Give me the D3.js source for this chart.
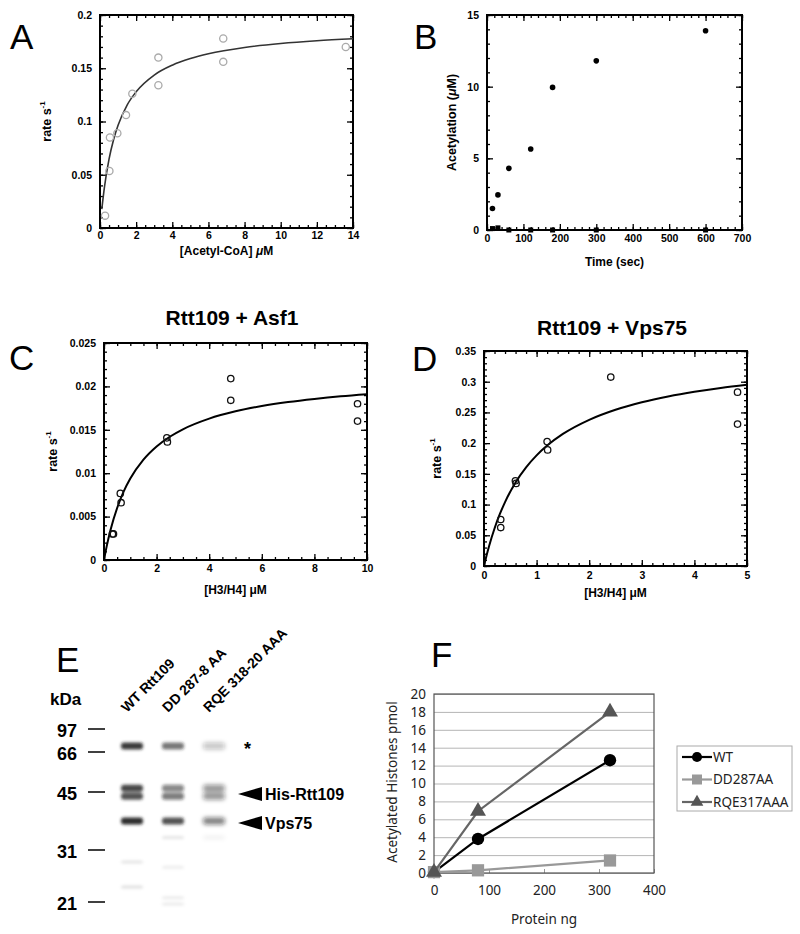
<!DOCTYPE html>
<html><head><meta charset="utf-8">
<script src="https://cdn.jsdelivr.net/npm/d3@7"></script>
<style>body{margin:0;background:#fff}svg{display:block}</style>
</head><body>
<svg id="fig" width="800" height="934"></svg>
<script>
// ---------- Panel A : rate vs [Acetyl-CoA] ----------
const aConc = [0.28, 0.52, 0.55, 0.96, 1.44, 1.79, 3.23, 3.23, 6.82, 6.82, 13.6];
const aRate = [0.0116, 0.0535, 0.085, 0.089, 0.106, 0.126, 0.160, 0.134, 0.178, 0.156, 0.170];
const aFitX = [0.1, 0.25, 0.5, 0.75, 1, 1.5, 2, 3, 4, 5, 6, 8, 10, 12, 14];
const aFitY = [0.0178, 0.0389, 0.0646, 0.0828, 0.0964, 0.1154, 0.1279, 0.1436, 0.1529, 0.1591, 0.1636, 0.1695, 0.1732, 0.1758, 0.1777];

// ---------- Panel B : acetylation time course ----------
const bTime = [15, 30, 60, 120, 180, 300, 600];
const bActive = [1.5, 2.45, 4.3, 5.65, 9.95, 11.8, 13.9];
const bControl = [0.1, 0.15, 0, 0, 0, 0, 0];

// ---------- Panel C : Rtt109 + Asf1 ----------
const cConc = [0.32, 0.36, 0.62, 0.65, 2.39, 2.41, 4.82, 4.82, 9.64, 9.64];
const cRate = [0.0030, 0.0030, 0.00767, 0.0066, 0.01407, 0.0136, 0.0209, 0.0184, 0.0180, 0.0160];
const cFitX = [0, 0.1, 0.25, 0.5, 0.75, 1, 1.5, 2, 2.5, 3, 4, 5, 6, 7, 8, 9, 10];
const cFitY = [0, 0.00154, 0.00348, 0.00599, 0.0079, 0.00938, 0.01156, 0.01308, 0.0142, 0.01506, 0.01629, 0.01713, 0.01774, 0.0182, 0.01856, 0.01886, 0.0191];

// ---------- Panel D : Rtt109 + Vps75 ----------
const dConc = [0.318, 0.318, 0.597, 0.61, 1.20, 1.21, 2.41, 4.82, 4.82];
const dRate = [0.0757, 0.0626, 0.1388, 0.1345, 0.2025, 0.189, 0.3076, 0.283, 0.231];
const dFitX = [0, 0.05, 0.1, 0.2, 0.3, 0.4, 0.6, 0.8, 1, 1.2, 1.5, 2, 2.5, 3, 3.5, 4, 4.5, 5];
const dFitY = [0, 0.0176, 0.0335, 0.0611, 0.0843, 0.1041, 0.136, 0.1606, 0.1801, 0.196, 0.215, 0.238, 0.2544, 0.2666, 0.2761, 0.2837, 0.2899, 0.295];

// ---------- Panel E : gel ----------
const gelLanes = ["WT Rtt109", "DD 287-8 AA", "RQE 318-20 AAA"];
const markerKDa = [97, 66, 45, 31, 21];
const bandKDa = [74, 47, 44, 38, 34, 28.7, 27.7, 23.9, 21.8, 20.6];
const bandWT  = [0.85, 0.8, 0.75, 0.9, 0, 0.1, 0, 0.12, 0, 0];
const bandDD  = [0.6, 0.5, 0.55, 0.75, 0.1, 0, 0.07, 0, 0.08, 0.08];
const bandRQE = [0.25, 0.45, 0.45, 0.55, 0.07, 0, 0, 0, 0, 0];
const bandLabels = ["*", "His-Rtt109", "Vps75"];

// ---------- Panel F : activity ----------
const fProtein = [0, 80, 320];
const fWT = [0.1, 3.8, 12.6];
const fDD = [0.1, 0.3, 1.4];
const fRQE = [0.1, 6.9, 18.0];
const fSeries = ["WT", "DD287AA", "RQE317AAA"];
const fYTicks = [0, 2, 4, 6, 8, 10, 12, 14, 16, 18, 20];
const fXTicks = [0, 100, 200, 300, 400];

const svg = d3.select('#fig');
const KF = '"Liberation Sans", Arial, Helvetica, sans-serif';
const NF = '"Noto Sans", "DejaVu Sans", sans-serif';
const fmtNum = d => String(+d.toFixed(4));

function letter(t, x, y) {
  svg.append('text').attr('x', x).attr('y', y).text(t)
    .attr('font-family', KF).attr('font-size', 35).attr('fill', '#000');
}

function kinetic(o) {
  const g = svg.append('g');
  const x = d3.scaleLinear().domain(o.xDomain).range([o.left, o.right]);
  const y = d3.scaleLinear().domain(o.yDomain).range([o.bottom, o.top]);
  const rng = (dom, s) => d3.range(dom[0], dom[1] + s / 2, s);
  const xMaj = rng(o.xDomain, o.xMajor), xMin = rng(o.xDomain, o.xMinor);
  const yMaj = rng(o.yDomain, o.yMajor), yMin = rng(o.yDomain, o.yMinor);
  const sides = [
    [d3.axisBottom, x, `translate(0,${o.bottom})`, xMaj, xMin],
    [d3.axisTop, x, `translate(0,${o.top})`, xMaj, xMin],
    [d3.axisLeft, y, `translate(${o.left},0)`, yMaj, yMin],
    [d3.axisRight, y, `translate(${o.right},0)`, yMaj, yMin]
  ];
  sides.forEach(([ax, sc, tr, maj, mn]) => {
    g.append('g').attr('transform', tr).call(ax(sc).tickValues(mn).tickSize(-3).tickFormat(''))
      .call(s => s.select('.domain').remove());
    g.append('g').attr('transform', tr).call(ax(sc).tickValues(maj).tickSize(-6).tickFormat(''))
      .call(s => s.select('.domain').remove());
  });
  g.selectAll('.tick line').attr('stroke', '#000').attr('stroke-width', 1.3);
  g.append('rect').attr('x', o.left).attr('y', o.top)
    .attr('width', o.right - o.left).attr('height', o.bottom - o.top)
    .attr('fill', 'none').attr('stroke', '#000').attr('stroke-width', 2);
  const xl = g.append('g').attr('transform', `translate(0,${o.bottom})`)
    .call(d3.axisBottom(x).tickValues(xMaj).tickSize(0).tickPadding(o.xPad || 4).tickFormat(fmtNum));
  const yl = g.append('g').attr('transform', `translate(${o.left},0)`)
    .call(d3.axisLeft(y).tickValues(yMaj).tickSize(0).tickPadding(8).tickFormat(fmtNum));
  [xl, yl].forEach(a => {
    a.select('.domain').remove();
    a.selectAll('text').attr('font-family', KF).attr('font-weight', 'bold')
      .attr('font-size', 10.5).attr('fill', '#000');
  });
  const xt = g.append('text').attr('x', (o.left + o.right) / 2).attr('y', o.xTitleY)
    .attr('text-anchor', 'middle').attr('font-family', KF).attr('font-weight', 'bold')
    .attr('font-size', 12);
  o.xTitle.forEach(p => xt.append('tspan').text(p[0]).attr('font-style', p[1] ? 'italic' : null));
  const yt = g.append('text')
    .attr('transform', `translate(${o.yTitleX},${(o.top + o.bottom) / 2}) rotate(-90)`)
    .attr('text-anchor', 'middle').attr('font-family', KF).attr('font-weight', 'bold')
    .attr('font-size', 12.5);
  o.yTitle.forEach(p => {
    const ts = yt.append('tspan').text(p[0]);
    if (p[1] === 'sup') ts.attr('font-size', 8).attr('dy', -6);
    if (p[1] === 'it') ts.attr('font-style', 'italic');
  });
  return { g, x, y };
}

// ---- Panel A
letter('A', 10, 49);
{
  const { g, x, y } = kinetic({
    left: 100, right: 353, top: 15, bottom: 228,
    xDomain: [0, 14], yDomain: [0, 0.2], xMajor: 2, xMinor: 0.5, yMajor: 0.05, yMinor: 0.01,
    xTitle: [['[Acetyl-CoA] '], ['μ', true], ['M']], xTitleY: 255, xPad: 4,
    yTitle: [['rate s'], ['-1', 'sup']], yTitleX: 51
  });
  g.append('path').datum(aFitX.map((v, i) => [v, aFitY[i]]))
    .attr('d', d3.line().x(d => x(d[0])).y(d => y(d[1])).curve(d3.curveMonotoneX))
    .attr('fill', 'none').attr('stroke', '#333').attr('stroke-width', 1.6);
  g.selectAll('circle.pt').data(aConc).join('circle')
    .attr('cx', d => x(d)).attr('cy', (d, i) => y(aRate[i])).attr('r', 3.6)
    .attr('fill', 'none').attr('stroke', '#aaa').attr('stroke-width', 1.3);
}

// ---- Panel B
letter('B', 414, 49);
{
  const { g, x, y } = kinetic({
    left: 487, right: 742, top: 15, bottom: 230,
    xDomain: [0, 700], yDomain: [0, 15], xMajor: 100, xMinor: 20, yMajor: 5, yMinor: 1,
    xTitle: [['Time (sec)']], xTitleY: 266, xPad: 5,
    yTitle: [['Acetylation ('], ['μ', 'it'], ['M)']], yTitleX: 456
  });
  g.selectAll('rect.ctl').data(bTime).join('rect')
    .attr('x', d => x(d) - 2.5).attr('y', (d, i) => y(bControl[i]) - 2.5)
    .attr('width', 5).attr('height', 5).attr('fill', '#000');
  g.selectAll('circle.pt').data(bTime).join('circle')
    .attr('cx', d => x(d)).attr('cy', (d, i) => y(bActive[i])).attr('r', 2.8).attr('fill', '#000');
}

// ---- Panel C
letter('C', 9, 370);
svg.append('text').attr('x', 232).attr('y', 325).attr('text-anchor', 'middle')
  .attr('font-family', KF).attr('font-weight', 'bold').attr('font-size', 21).text('Rtt109 + Asf1');
{
  const { g, x, y } = kinetic({
    left: 104, right: 367, top: 343, bottom: 560,
    xDomain: [0, 10], yDomain: [0, 0.025], xMajor: 2, xMinor: 0.5, yMajor: 0.005, yMinor: 0.001,
    xTitle: [['[H3/H4] μM']], xTitleY: 594, xPad: 5,
    yTitle: [['rate s'], ['-1', 'sup']], yTitleX: 57
  });
  g.append('path').datum(cFitX.map((v, i) => [v, cFitY[i]]))
    .attr('d', d3.line().x(d => x(d[0])).y(d => y(d[1])).curve(d3.curveMonotoneX))
    .attr('fill', 'none').attr('stroke', '#000').attr('stroke-width', 2);
  g.selectAll('circle.pt').data(cConc).join('circle')
    .attr('cx', d => x(d)).attr('cy', (d, i) => y(cRate[i])).attr('r', 3.2)
    .attr('fill', 'none').attr('stroke', '#111').attr('stroke-width', 1.3);
}

// ---- Panel D
letter('D', 412, 371);
svg.append('text').attr('x', 612).attr('y', 335).attr('text-anchor', 'middle')
  .attr('font-family', KF).attr('font-weight', 'bold').attr('font-size', 21).text('Rtt109 + Vps75');
{
  const { g, x, y } = kinetic({
    left: 484, right: 747, top: 351, bottom: 566,
    xDomain: [0, 5], yDomain: [0, 0.35], xMajor: 1, xMinor: 0.2, yMajor: 0.05, yMinor: 0.01,
    xTitle: [['[H3/H4] μM']], xTitleY: 597, xPad: 6,
    yTitle: [['rate s'], ['-1', 'sup']], yTitleX: 441
  });
  g.append('path').datum(dFitX.map((v, i) => [v, dFitY[i]]))
    .attr('d', d3.line().x(d => x(d[0])).y(d => y(d[1])).curve(d3.curveMonotoneX))
    .attr('fill', 'none').attr('stroke', '#000').attr('stroke-width', 2);
  g.selectAll('circle.pt').data(dConc).join('circle')
    .attr('cx', d => x(d)).attr('cy', (d, i) => y(dRate[i])).attr('r', 3.2)
    .attr('fill', 'none').attr('stroke', '#111').attr('stroke-width', 1.3);
}

// ---- Panel E : gel
letter('E', 56, 672);
{
  const defs = svg.append('defs');
  defs.append('filter').attr('id', 'blur1').attr('x', '-40%').attr('y', '-150%').attr('width', '180%').attr('height', '400%')
    .append('feGaussianBlur').attr('stdDeviation', '1.8 1.4');
  defs.append('filter').attr('id', 'blur2').attr('x', '-40%').attr('y', '-150%').attr('width', '180%').attr('height', '400%')
    .append('feGaussianBlur').attr('stdDeviation', '2.2 2.2');
  const g = svg.append('g');
  const lane = d3.scalePoint().domain(gelLanes).range([132, 214]);
  const mw = d3.scaleLinear().domain(markerKDa).range([729, 752, 792, 850, 902]);
  g.append('text').attr('x', 50).attr('y', 705).text('kDa')
    .attr('font-family', KF).attr('font-weight', 'bold').attr('font-size', 17);
  g.selectAll('line.mk').data(markerKDa).join('line')
    .attr('x1', 88).attr('x2', 105).attr('y1', d => mw(d)).attr('y2', d => mw(d))
    .attr('stroke', '#000').attr('stroke-width', 1.5);
  g.selectAll('text.mk').data(markerKDa).join('text')
    .attr('x', 77).attr('y', d => mw(d) + 2).attr('dy', '0.35em').attr('text-anchor', 'end')
    .attr('font-family', KF).attr('font-weight', 'bold').attr('font-size', 18).text(d => d);
  g.selectAll('text.lane').data(gelLanes).join('text')
    .attr('transform', d => `translate(${lane(d) - 5},713) rotate(-45)`)
    .attr('font-family', KF).attr('font-weight', 'bold').attr('font-size', 14).text(d => d);
  const laneBands = [bandWT, bandDD, bandRQE];
  laneBands.forEach((arr, li) => {
    g.append('g').attr('filter', li === 2 ? 'url(#blur2)' : 'url(#blur1)')
      .selectAll('rect').data(bandKDa.map((k, i) => [k, arr[i]]).filter(d => d[1] > 0)).join('rect')
      .attr('x', lane(gelLanes[li]) - 11).attr('width', 22)
      .attr('y', d => mw(d[0]) - (d[1] > 0.2 ? 3.5 : 1.5))
      .attr('height', d => d[1] > 0.2 ? 7 : 3).attr('rx', 3)
      .attr('fill', '#1a1a1a').attr('fill-opacity', d => d[1]);
  });
  const annY = [mw(bandKDa[0]), mw(45), mw(bandKDa[3])];
  g.append('text').attr('x', 244).attr('y', annY[0] + 9).text(bandLabels[0])
    .attr('font-family', KF).attr('font-weight', 'bold').attr('font-size', 18);
  [1, 2].forEach(i => {
    const yy = annY[i] + 2;
    g.append('path').attr('d', `M238,${yy} L262,${yy - 7} L262,${yy + 7} Z`).attr('fill', '#000');
    g.append('text').attr('x', 265).attr('y', yy).attr('dy', '0.36em').text(bandLabels[i])
      .attr('font-family', KF).attr('font-weight', 'bold').attr('font-size', 16);
  });
}

// ---- Panel F
letter('F', 431, 667);
{
  const g = svg.append('g');
  const x = d3.scaleLinear().domain([0, 400]).range([434, 654]);
  const y = d3.scaleLinear().domain([0, 20]).range([873, 694]);
  const grid = g.append('g').attr('transform', 'translate(434,0)')
    .call(d3.axisLeft(y).tickValues(fYTicks).tickSize(-220).tickFormat(''));
  grid.select('.domain').remove();
  grid.selectAll('line').attr('stroke', '#b5b5b5').attr('stroke-width', 1);
  const xt = g.append('g').attr('transform', 'translate(0,873)')
    .call(d3.axisBottom(x).tickValues(fXTicks).tickSize(-4).tickFormat(''));
  xt.select('.domain').remove();
  xt.selectAll('line').attr('stroke', '#999');
  g.append('rect').attr('x', 434).attr('y', 694).attr('width', 220).attr('height', 179)
    .attr('fill', 'none').attr('stroke', '#555').attr('stroke-width', 1.2);
  const yl = g.append('g').attr('transform', 'translate(434,0)')
    .call(d3.axisLeft(y).tickValues(fYTicks).tickSize(0).tickPadding(8));
  const xl = g.append('g').attr('transform', 'translate(0,873)')
    .call(d3.axisBottom(x).tickValues(fXTicks).tickSize(0).tickPadding(12));
  [yl, xl].forEach(a => {
    a.select('.domain').remove();
    a.selectAll('text').attr('font-family', NF).attr('font-size', 13.5).attr('fill', '#222');
  });
  g.append('text').attr('x', 544).attr('y', 924).attr('text-anchor', 'middle')
    .attr('font-family', NF).attr('font-size', 13.5).attr('fill', '#222').text('Protein ng');
  g.append('text').attr('transform', 'translate(397,782) rotate(-90)').attr('text-anchor', 'middle')
    .attr('font-family', NF).attr('font-size', 13.5).attr('fill', '#222').text('Acetylated Histones pmol');

  const styles = [
    { vals: fWT, line: '#000', fill: '#000', sym: d3.symbolCircle, size: 120, lsize: 80 },
    { vals: fDD, line: '#999', fill: '#999', sym: d3.symbolSquare, size: 150, lsize: 100 },
    { vals: fRQE, line: '#666', fill: '#555', sym: d3.symbolTriangle, size: 110, lsize: 70 }
  ];
  const line = d3.line().x((d, i) => x(fProtein[i])).y(d => y(d));
  styles.forEach(s => {
    g.append('path').datum(s.vals).attr('d', line).attr('fill', 'none')
      .attr('stroke', s.line).attr('stroke-width', 2.2);
    g.selectAll(null).data(s.vals).join('path')
      .attr('transform', (d, i) => `translate(${x(fProtein[i])},${y(d)})`)
      .attr('d', d3.symbol(s.sym, s.size)).attr('fill', s.fill);
  });
  const lg = g.append('g');
  lg.append('rect').attr('x', 677).attr('y', 746).attr('width', 115).attr('height', 65)
    .attr('fill', '#fff').attr('stroke', '#aaa').attr('stroke-width', 1);
  const ly = d3.scalePoint().domain(fSeries).range([757, 802]);
  fSeries.forEach((name, i) => {
    const s = styles[i], yy = ly(name);
    lg.append('line').attr('x1', 682).attr('x2', 712).attr('y1', yy).attr('y2', yy)
      .attr('stroke', s.line).attr('stroke-width', 2.2);
    lg.append('path').attr('transform', `translate(697,${yy})`).attr('d', d3.symbol(s.sym, s.lsize)).attr('fill', s.fill);
    lg.append('text').attr('x', 713).attr('y', yy).attr('dy', '0.35em').text(name)
      .attr('font-family', NF).attr('font-size', 13.5).attr('fill', '#222');
  });
}
</script>
</body></html>
